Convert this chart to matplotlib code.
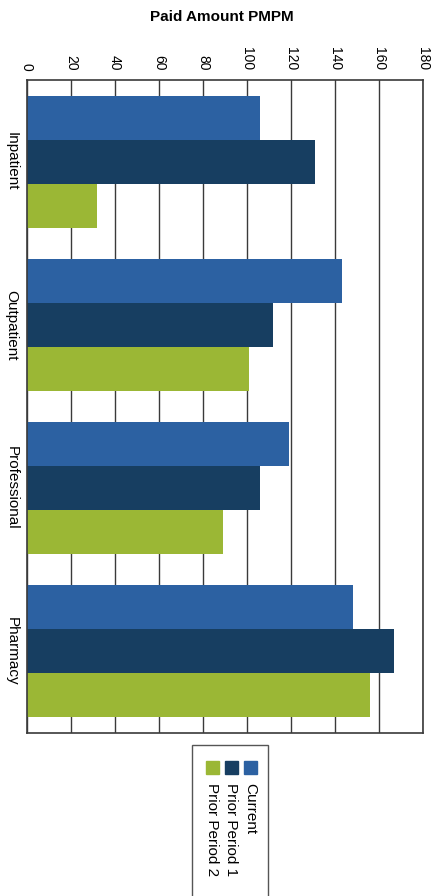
"""
Paid amount PMPM by service category, three reporting periods.
Drawn sideways (value axis along the top) as in the printed report.
"""
import numpy as np
import matplotlib.pyplot as plt
from matplotlib.patches import Rectangle

categories = ['Inpatient', 'Outpatient', 'Professional', 'Pharmacy']
series = ['Current', 'Prior Period 1', 'Prior Period 2']
current = [106, 143, 119, 148]
prior1 = [131, 112, 106, 167]
prior2 = [32, 101, 89, 156]
ticks = [0, 20, 40, 60, 80, 100, 120, 140, 160, 180]

colors = ['#2c61a2', '#173e61', '#9bb735']

plt.rcParams['font.family'] = ['Liberation Sans', 'DejaVu Sans']

W, H = 435, 896
fig = plt.figure(figsize=(W / 100, H / 100), dpi=100)
ax = fig.add_axes([27 / W, 1 - 733 / H, 396 / W, 653 / H])

y = np.arange(len(categories))
h = 0.27
for i, (vals, c) in enumerate(zip([current, prior1, prior2], colors)):
    ax.barh(y + (i - 1) * h, vals, height=h, color=c, label=series[i])

ax.set_xlim(0, 180)
ax.set_ylim(len(categories) - 0.5, -0.5)
ax.set_xticks(ticks)
ax.set_xticklabels([str(t) for t in ticks], rotation=-90, fontsize=10)
ax.xaxis.tick_top()
ax.set_yticks(y)
ax.set_yticklabels(categories, rotation=-90, va='center', fontsize=11)
ax.tick_params(length=0)
ax.tick_params(axis='x', pad=7)
ax.tick_params(axis='y', pad=6)
ax.grid(axis='x', color='#3a3a3a', lw=1)
ax.set_axisbelow(True)
for s in ax.spines.values():
    s.set_color('#3a3a3a')
    s.set_linewidth(1.2)

fig.text(222 / W, 1 - 17 / H, 'Paid Amount PMPM', ha='center', va='center',
         fontsize=11, fontweight='bold')

# legend box, turned on its side like the chart
fig.patches.append(Rectangle((192 / W, -0.02), 76 / W, 1 - 745 / H + 0.02,
                             transform=fig.transFigure, fill=False,
                             edgecolor='#555555', lw=1))
lx = [250, 231, 212]
for name, c, x in zip(series, colors, lx):
    fig.patches.append(Rectangle(((x - 6) / W, 1 - 774 / H), 13 / W, 13 / H,
                                 transform=fig.transFigure, color=c))
    fig.text(x / W, 1 - 783 / H, name, rotation=-90, ha='center', va='top',
             fontsize=11)

fig.savefig('out.png', dpi=100)
